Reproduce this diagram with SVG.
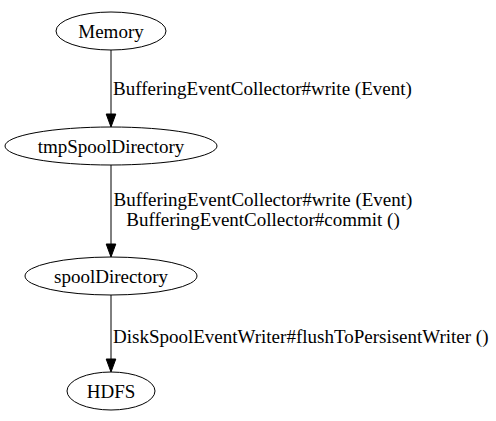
<svg xmlns="http://www.w3.org/2000/svg" width="496" height="421" viewBox="0 0 496 421">
<style>
.n ellipse{fill:none;stroke:#000;stroke-width:1}
text{font-family:"Liberation Serif","Times New Roman",serif;font-size:19px;fill:#000}
.n text{text-anchor:middle}
.e line{stroke:#000;stroke-width:1}
.e polygon{fill:#000;stroke:#000}
</style>
<rect width="496" height="421" fill="#fff"/>
<g id="Memory" class="n"><ellipse cx="111" cy="31" rx="55" ry="19"/><text x="111" y="37.5">Memory</text></g>
<g id="tmpSpoolDirectory" class="n"><ellipse cx="111" cy="146" rx="106" ry="19"/><text x="111" y="152.5">tmpSpoolDirectory</text></g>
<g id="spoolDirectory" class="n"><ellipse cx="111" cy="276" rx="86" ry="19"/><text x="111" y="282.5">spoolDirectory</text></g>
<g id="HDFS" class="n"><ellipse cx="111" cy="391" rx="44" ry="19"/><text x="111" y="397.5">HDFS</text></g>
<g id="edges" class="e">
<line x1="111" y1="50" x2="111" y2="114"/><polygon points="106.2,114 111,127 115.8,114"/>
<text x="113" y="95">BufferingEventCollector#write (Event)</text>
<line x1="111" y1="165" x2="111" y2="244"/><polygon points="106.2,244 111,257 115.8,244"/>
<text x="263" y="206" text-anchor="middle">BufferingEventCollector#write (Event)</text>
<text x="263" y="226" text-anchor="middle">BufferingEventCollector#commit ()</text>
<line x1="111" y1="295" x2="111" y2="359"/><polygon points="106.2,359 111,372 115.8,359"/>
<text x="113" y="343">DiskSpoolEventWriter#flushToPersisentWriter ()</text>
</g>
</svg>
